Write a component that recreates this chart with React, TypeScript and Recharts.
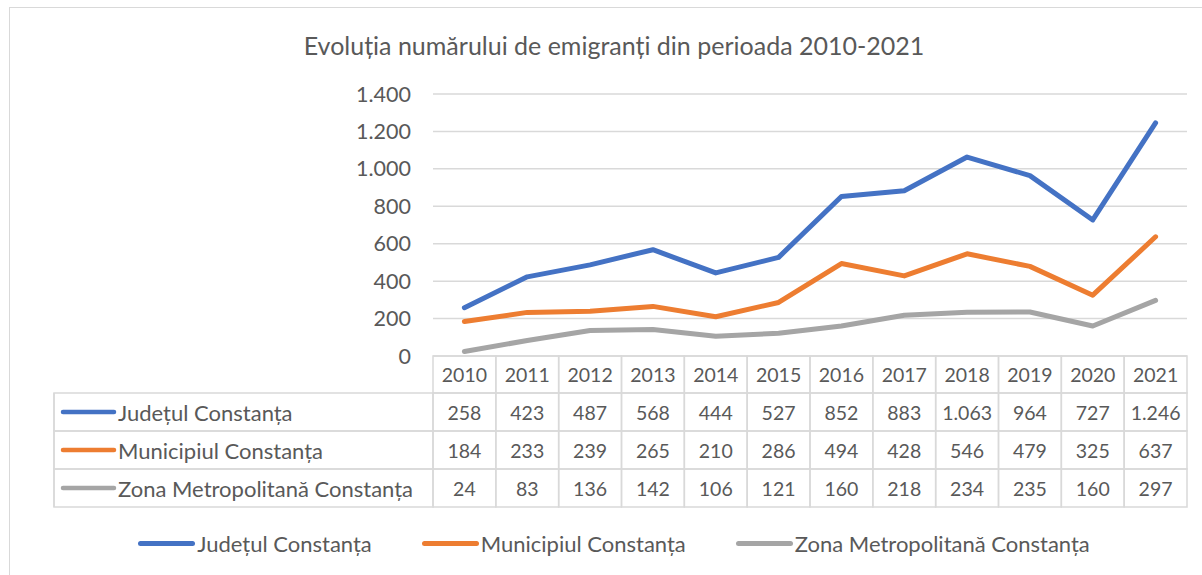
import { CartesianGrid, Line, LineChart, XAxis, YAxis } from 'recharts';

const years = ['2010', '2011', '2012', '2013', '2014', '2015', '2016', '2017', '2018', '2019', '2020', '2021'];
const judetul = [258, 423, 487, 568, 444, 527, 852, 883, 1063, 964, 727, 1246];
const municipiul = [184, 233, 239, 265, 210, 286, 494, 428, 546, 479, 325, 637];
const zonaMetropolitana = [24, 83, 136, 142, 106, 121, 160, 218, 234, 235, 160, 297];
const yTicks = [0, 200, 400, 600, 800, 1000, 1200, 1400];

const title = 'Evoluția numărului de emigranți din perioada 2010-2021';

const series = [
  { key: 'judetul', name: 'Județul Constanța', color: '#4472C4', values: judetul },
  { key: 'municipiul', name: 'Municipiul Constanța', color: '#ED7D31', values: municipiul },
  { key: 'zona', name: 'Zona Metropolitană Constanța', color: '#A5A5A5', values: zonaMetropolitana },
];

const data = years.map((year, i) => {
  const row: Record<string, string | number> = { year };
  series.forEach((s) => {
    row[s.key] = s.values[i];
  });
  return row;
});

// layout, in page pixels
const W = 1202;
const H = 575;
const PLOT_LEFT = 433;
const PLOT_RIGHT = 1187;
const PLOT_TOP = 94;
const PLOT_BOTTOM = 356;
const TABLE_LEFT = 54;
const HEADER_BOTTOM = 393;
const ROW_H = 38;
const Y_AXIS_W = 80;
const X_AXIS_H = 160;
const COL_W = (PLOT_RIGHT - PLOT_LEFT) / years.length;

const FONT = 'Lato, "Open Sans", sans-serif';
const TEXT = '#595959';
const GRID = '#d9d9d9';
const FS_NUM = 19.5;
const FS_LABEL = 22;

const fmt = (n: number) => String(n).replace(/\B(?=(\d{3})+(?!\d))/g, '.');

/** X-axis tick drawn as one column of the data table under the plot. */
function TableColumn(props: any) {
  const { x, index, payload } = props;
  const left = x - COL_W / 2;
  const tableBottom = HEADER_BOTTOM + ROW_H * series.length;
  return (
    <g fontFamily={FONT} fontSize={FS_NUM} fill={TEXT}>
      <rect x={left} y={PLOT_BOTTOM} width={COL_W} height={HEADER_BOTTOM - PLOT_BOTTOM} fill="none" stroke={GRID} strokeWidth={1.5} />
      <text x={x} y={(PLOT_BOTTOM + HEADER_BOTTOM) / 2} textAnchor="middle" dominantBaseline="central">
        {payload.value}
      </text>
      {series.map((s, r) => {
        const top = HEADER_BOTTOM + r * ROW_H;
        return (
          <g key={s.key}>
            <rect x={left} y={top} width={COL_W} height={ROW_H} fill="none" stroke={GRID} strokeWidth={1.5} />
            <text x={x} y={top + ROW_H / 2} textAnchor="middle" dominantBaseline="central">
              {fmt(s.values[index])}
            </text>
          </g>
        );
      })}
      {index === 0 && (
        <g>
          {series.map((s, r) => {
            const top = HEADER_BOTTOM + r * ROW_H;
            return (
              <g key={s.key}>
                <rect x={TABLE_LEFT} y={top} width={left - TABLE_LEFT} height={ROW_H} fill="none" stroke={GRID} strokeWidth={1.5} />
                <line x1={63} x2={114} y1={top + ROW_H / 2} y2={top + ROW_H / 2} stroke={s.color} strokeWidth={4.5} strokeLinecap="round" />
                <text x={118} y={top + ROW_H / 2} dominantBaseline="central" fontSize={FS_LABEL}>
                  {s.name}
                </text>
              </g>
            );
          })}
          <line x1={TABLE_LEFT} x2={TABLE_LEFT} y1={HEADER_BOTTOM} y2={tableBottom} stroke={GRID} strokeWidth={1.5} />
        </g>
      )}
    </g>
  );
}

export default function App() {
  return (
    <div style={{ position: 'absolute', left: 0, top: 0, width: W, height: H, overflow: 'hidden', background: '#fff' }}>
      {/* chart frame */}
      <div style={{ position: 'absolute', left: 9, top: 7, width: 1300, height: 700, borderLeft: `1.5px solid ${GRID}`, borderTop: `1.5px solid ${GRID}` }} />
      <div
        style={{
          position: 'absolute',
          left: 9,
          width: 1210,
          top: 30,
          textAlign: 'center',
          fontFamily: FONT,
          fontSize: 25,
          color: TEXT,
        }}
      >
        {title}
      </div>
      <div style={{ position: 'absolute', left: 0, top: 0 }}>
        <LineChart
          width={W}
          height={H}
          data={data}
          margin={{ top: PLOT_TOP, right: W - PLOT_RIGHT, bottom: H - PLOT_BOTTOM - X_AXIS_H, left: PLOT_LEFT - Y_AXIS_W }}
        >
          <CartesianGrid vertical={false} stroke={GRID} strokeWidth={1.5} />
          <XAxis
            dataKey="year"
            height={X_AXIS_H}
            interval={0}
            axisLine={false}
            tickLine={false}
            padding={{ left: COL_W / 2, right: COL_W / 2 }}
            tick={<TableColumn />}
          />
          <YAxis
            width={Y_AXIS_W}
            domain={[0, 1400]}
            ticks={yTicks}
            axisLine={false}
            tickLine={false}
            tickSize={0}
            tickMargin={22}
            tickFormatter={fmt}
            tick={{ fontSize: 21.5, fill: TEXT, fontFamily: FONT }}
          />
          {series.map((s) => (
            <Line
              key={s.key}
              dataKey={s.key}
              name={s.name}
              stroke={s.color}
              strokeWidth={5}
              strokeLinecap="round"
              strokeLinejoin="round"
              dot={false}
              activeDot={false}
              isAnimationActive={false}
            />
          ))}
        </LineChart>
      </div>
      {/* legend */}
      <div
        style={{
          position: 'absolute',
          left: 9,
          width: 1210,
          top: 530,
          display: 'flex',
          justifyContent: 'center',
          gap: 50,
          fontFamily: FONT,
          fontSize: FS_LABEL,
          color: TEXT,
        }}
      >
        {series.map((s) => (
          <div key={s.key} style={{ display: 'flex', alignItems: 'center' }}>
            <span style={{ display: 'inline-block', width: 57, height: 5, borderRadius: 3, background: s.color, marginRight: 2 }} />
            <span>{s.name}</span>
          </div>
        ))}
      </div>
    </div>
  );
}
